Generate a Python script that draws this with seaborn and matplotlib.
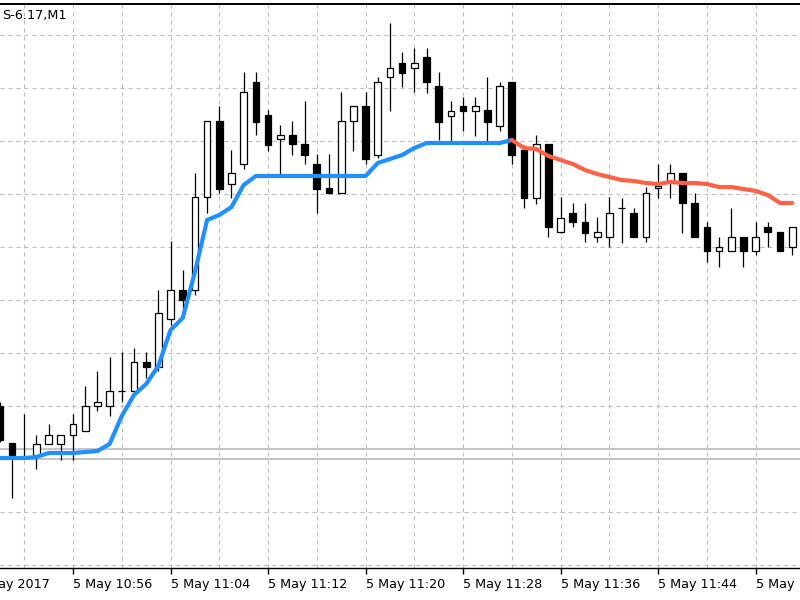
"""One-minute candlestick chart with a two-colour trend line, MT5 style."""

import matplotlib

matplotlib.use("Agg")

import matplotlib.pyplot as plt
from matplotlib.ticker import MultipleLocator
import pandas as pd
import seaborn as sns

SYMBOL_LABEL = "S-6.17,M1"

# bar index 0 is the 10:56 candle, one bar per minute
BARS = list(range(-6, 60))

OPEN = [
    15.9, 12.2, 10.8, 11.0, 12.1, 12.1, 13.0, 13.4, 15.9, 15.9, 17.4,
    17.4, 20.3, 19.8, 24.6, 27.5, 27.5, 36.8, 44.4, 38.1, 40.1, 48.3,
    45.0, 42.6, 43.0, 42.1, 40.1, 37.7, 37.2, 44.4, 45.9, 41.0, 48.8,
    50.2, 49.7, 50.8, 47.9, 44.9, 45.9, 45.4, 45.5, 43.9, 48.3, 41.5,
    36.7, 42.1, 33.3, 35.2, 34.3, 32.8, 32.8, 35.7, 35.2, 32.8, 37.7,
    38.3, 39.2, 36.2, 33.8, 31.4, 31.4, 32.8, 31.4, 33.8, 33.3, 31.8,
]
HIGH = [
    16.3, 12.2, 15.1, 13.0, 14.1, 13.0, 15.1, 17.9, 19.4, 20.8, 21.3,
    21.7, 21.3, 27.5, 32.4, 29.5, 39.2, 44.4, 45.9, 41.5, 49.3, 49.3,
    45.5, 44.0, 44.4, 46.4, 41.1, 41.1, 47.3, 45.9, 47.3, 48.8, 54.2,
    51.3, 51.7, 51.7, 49.3, 46.4, 46.8, 46.8, 48.8, 48.3, 48.3, 42.0,
    43.0, 42.1, 36.8, 36.2, 36.2, 34.8, 36.8, 36.7, 35.7, 37.8, 40.1,
    40.1, 39.2, 37.2, 34.3, 32.8, 35.7, 32.8, 34.3, 34.3, 33.3, 33.8,
]
LOW = [
    12.3, 6.7, 10.6, 9.6, 12.1, 10.5, 10.5, 13.4, 15.4, 14.9, 16.3,
    17.3, 18.7, 19.4, 24.0, 25.6, 27.0, 35.2, 37.2, 36.7, 39.6, 43.0,
    41.4, 39.1, 41.0, 40.1, 35.2, 37.2, 37.2, 41.4, 40.1, 40.7, 45.4,
    47.8, 47.3, 47.2, 42.5, 42.4, 43.4, 42.9, 42.4, 43.4, 40.1, 35.7,
    36.1, 32.8, 33.2, 33.8, 32.3, 32.3, 31.8, 32.2, 32.8, 32.3, 36.7,
    36.7, 33.2, 32.8, 30.3, 29.8, 31.4, 29.8, 31.0, 31.8, 31.4, 31.0,
]
CLOSE = [
    12.5, 11.0, 10.8, 12.1, 13.0, 13.0, 14.1, 15.9, 16.3, 17.4, 17.4,
    20.3, 19.8, 25.2, 27.5, 26.5, 36.8, 44.4, 37.6, 39.2, 47.3, 44.3,
    42.0, 43.0, 42.1, 41.0, 37.6, 37.2, 44.4, 45.9, 40.6, 48.3, 49.7,
    49.2, 50.2, 48.3, 44.3, 45.4, 45.4, 45.9, 44.3, 47.9, 41.0, 36.7,
    42.1, 33.8, 34.7, 34.3, 33.2, 33.3, 35.2, 35.7, 32.8, 37.2, 37.9,
    39.2, 36.2, 32.8, 31.4, 31.8, 32.8, 31.4, 32.8, 33.3, 31.4, 33.8,
]
TREND = [
    10.7, 10.7, 10.7, 10.8, 11.2, 11.2, 11.2, 11.3, 11.4, 12.1, 14.9,
    17.0, 18.1, 19.9, 23.5, 24.7, 29.3, 34.5, 35.0, 35.8, 38.0, 38.9,
    38.9, 38.9, 38.9, 38.9, 38.9, 38.9, 38.9, 38.9, 38.9, 40.2, 40.6,
    41.0, 41.7, 42.2, 42.2, 42.2, 42.2, 42.2, 42.2, 42.2, 42.5, 41.7,
    41.6, 40.9, 40.5, 40.1, 39.5, 39.1, 38.8, 38.5, 38.4, 38.2, 38.1,
    38.3, 38.2, 38.2, 38.1, 37.8, 37.8, 37.6, 37.4, 37.0, 36.2, 36.2,
]
TREND_FLIP_BAR = 36  # trend turns from up (blue) to down (red) here

TICK_BARS = [0, 8, 16, 24, 32, 40, 48, 56]
TICK_LABELS = [
    "5 May 10:56", "5 May 11:04", "5 May 11:12", "5 May 11:20",
    "5 May 11:28", "5 May 11:36", "5 May 11:44", "5 May 11:52",
]
FIRST_LABEL_BAR = -8
FIRST_LABEL = "5 May 2017"

BID_LEVEL = 10.6
ASK_LEVEL = 11.6

UP_COLOR = "#1e90ff"
DOWN_COLOR = "#ff6145"
GRID_COLOR = "#bcbcbc"
FONT_SIZE = 9.2


def build_frame() -> pd.DataFrame:
    return pd.DataFrame(
        {"bar": BARS, "open": OPEN, "high": HIGH, "low": LOW,
         "close": CLOSE, "trend": TREND}
    )


def plot_candles(ax: plt.Axes, data: pd.DataFrame) -> None:
    ax.vlines(data["bar"], data["low"], data["high"], color="black",
              linewidth=0.9, zorder=2)
    rising = data["close"] >= data["open"]
    bottom = data[["open", "close"]].min(axis=1)
    height = (data["close"] - data["open"]).abs()
    ax.bar(data["bar"], height, bottom=bottom, width=0.55,
           color=["white" if up else "black" for up in rising],
           edgecolor="black", linewidth=0.9, zorder=3)


def plot_trend(ax: plt.Axes, data: pd.DataFrame) -> None:
    up = data[data["bar"] <= TREND_FLIP_BAR].assign(side="up")
    down = data[data["bar"] >= TREND_FLIP_BAR].assign(side="down")
    trend = pd.concat([up, down], ignore_index=True)
    sns.lineplot(data=trend, x="bar", y="trend", hue="side", units="side",
                 estimator=None, sort=True, linewidth=3,
                 palette={"up": UP_COLOR, "down": DOWN_COLOR},
                 legend=False, ax=ax, zorder=4)


def main() -> None:
    sns.set_theme(style="white")
    plt.rcParams["font.family"] = ["DejaVu Sans"]

    data = build_frame()
    fig = plt.figure(figsize=(8, 6), dpi=100)
    ax = fig.add_axes([0, 32 / 600, 1, 564 / 600])

    for level in (ASK_LEVEL, BID_LEVEL):
        ax.axhline(level, color="#c4c4c4", linewidth=1.4, zorder=1)

    plot_candles(ax, data)
    plot_trend(ax, data)

    ax.set_xlim(-5.99, 59.64)
    ax.set_ylim(-0.3, 56.1)

    ax.set_xticks(TICK_BARS)
    ax.set_xticklabels(TICK_LABELS, ha="left")
    ax.xaxis.set_minor_locator(MultipleLocator(4))
    ax.yaxis.set_major_locator(MultipleLocator(5.3))
    ax.grid(True, which="both", color=GRID_COLOR, linewidth=0.8,
            linestyle=(0, (3.6, 3.6)))
    ax.set_axisbelow(True)

    ax.tick_params(axis="x", which="major", direction="out", length=4,
                   width=1, color="black", labelsize=FONT_SIZE, pad=3,
                   labelcolor="black", bottom=True)
    ax.tick_params(axis="x", which="minor", length=0)
    ax.tick_params(axis="y", which="both", left=False, labelleft=False)
    ax.set_xlabel("")
    ax.set_ylabel("")

    for side in ("left", "right"):
        ax.spines[side].set_visible(False)
    ax.spines["top"].set_color("black")
    ax.spines["top"].set_linewidth(1.4)
    ax.spines["bottom"].set_color("black")
    ax.spines["bottom"].set_linewidth(1.0)

    # the first date label sits left of the visible area and is cut off
    ax.annotate(FIRST_LABEL, xy=(FIRST_LABEL_BAR, 0),
                xycoords=("data", "axes fraction"), xytext=(0, -7),
                textcoords="offset points", ha="left", va="top",
                fontsize=FONT_SIZE, color="black", annotation_clip=False)

    fig.text(2 / 800, 1 - 15.5 / 600, SYMBOL_LABEL, ha="left", va="center",
             fontsize=FONT_SIZE, color="black")

    fig.savefig("out.png", dpi=100)
    plt.close(fig)


if __name__ == "__main__":
    main()
